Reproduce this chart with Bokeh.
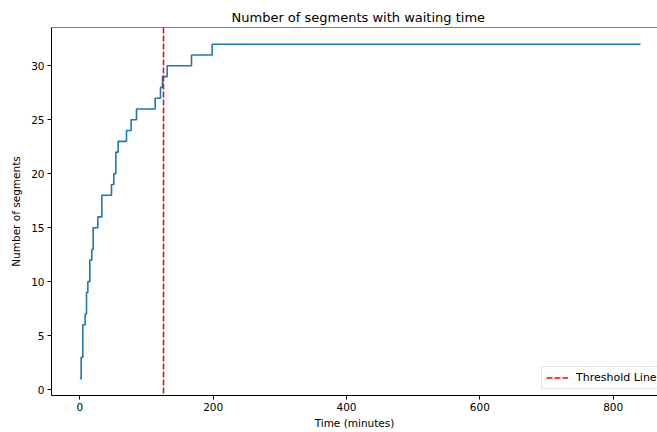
from bokeh.plotting import figure
from bokeh.models import Span, Range1d, Legend, LegendItem, FixedTicker
from bokeh.embed import file_html
from bokeh.resources import INLINE

# Step-change times (minutes) and the segment count from that time on
times = [0, 2, 4.5, 8, 10, 12, 15, 18, 20, 27, 33, 47.5, 51, 54, 57.5, 70, 77, 85, 113, 121, 124, 131, 167.5, 198.5, 841]
counts = [1, 3, 6, 7, 9, 10, 12, 13, 15, 16, 18, 19, 20, 22, 23, 24, 25, 26, 27, 28, 29, 30, 31, 32, 32]
threshold = 125.5
x_ticks = [0, 200, 400, 600, 800]
y_ticks = [0, 5, 10, 15, 20, 25, 30]

FONT = "DejaVu Sans"
Y_START, Y_END = -0.55, 33.55
DASH = "6 2"

p = figure(width=657, height=432, output_backend="svg", toolbar_location=None,
           x_range=Range1d(-42.5, 866.5), y_range=Range1d(Y_START, Y_END),
           min_border_left=51, min_border_right=0, min_border_top=27, min_border_bottom=37,
           title="Number of segments with waiting time")

p.title.text_font = FONT
p.title.text_font_size = "13px"
p.title.text_font_style = "normal"
p.title.align = "left"
p.title.offset = 180
p.title.standoff = 6
p.title.text_color = "black"

p.step(times, counts, mode="after", line_color="#1f77b4", line_width=1.6)

p.add_layout(Span(location=threshold, dimension="height", line_color="red",
                  line_width=1.5, line_dash=DASH))
dummy = p.line(x=[threshold], y=[float("nan")], line_color="red", line_width=1.5,
               line_dash=DASH)

legend = Legend(items=[LegendItem(label="Threshold Line", renderers=[dummy])],
                location=(490, 6))
legend.label_text_font = FONT
legend.label_text_font_size = "11px"
legend.label_text_color = "black"
legend.border_line_color = "#cccccc"
legend.border_line_width = 1
legend.background_fill_alpha = 0.8
legend.padding = 4
legend.margin = 0
legend.glyph_width = 22
legend.glyph_height = 11
legend.label_height = 11
legend.label_standoff = 8
legend.spacing = 0
p.add_layout(legend, "center")

p.xgrid.visible = False
p.ygrid.visible = False
p.outline_line_color = None
p.add_layout(Span(location=Y_END, dimension="width", line_color="black", line_width=1))

for ax in (p.xaxis[0], p.yaxis[0]):
    ax.major_label_text_font = FONT
    ax.major_label_text_font_size = "10.5px"
    ax.major_label_text_color = "black"
    ax.axis_label_text_font = FONT
    ax.axis_label_text_font_size = "10.5px"
    ax.axis_label_text_font_style = "normal"
    ax.axis_label_text_color = "black"
    ax.axis_line_color = "black"
    ax.axis_line_width = 1
    ax.major_tick_line_color = "black"
    ax.major_tick_in = 0
    ax.major_tick_out = 4
    ax.minor_tick_line_color = None
    ax.major_label_standoff = 3

p.xaxis[0].ticker = FixedTicker(ticks=x_ticks)
p.yaxis[0].ticker = FixedTicker(ticks=y_ticks)
p.xaxis[0].axis_label = "Time (minutes)"
p.yaxis[0].axis_label = "Number of segments"
p.xaxis[0].axis_label_standoff = 3
p.yaxis[0].axis_label_standoff = 6

open("out.html", "w").write(file_html(p, INLINE))
